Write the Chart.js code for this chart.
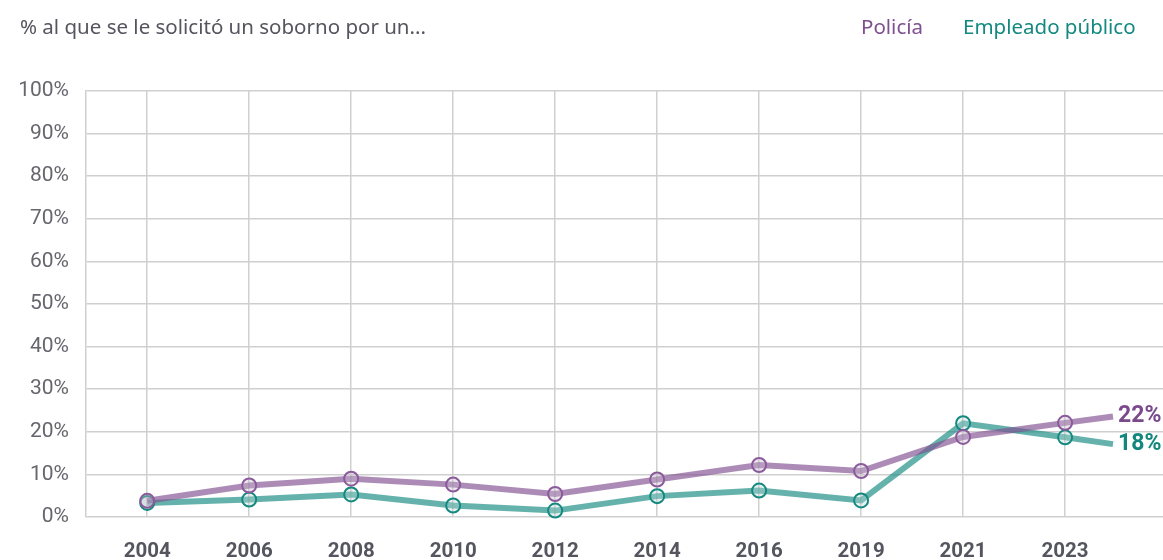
<!DOCTYPE html>
<html>
<head>
<meta charset="utf-8">
<script src="https://cdn.jsdelivr.net/npm/chart.js@4.4.1/dist/chart.umd.min.js"></script>
<style>
    html, body { margin: 0; padding: 0; background: #fff; }
    #wrap { position: relative; width: 1163px; height: 560px; overflow: hidden; }
    #title { position: absolute; left: 20px; top: 12px; font: 20.5px 'Noto Sans', sans-serif; color: #55555f; }
    .leg { position: absolute; top: 12px; font: 20.5px 'Noto Sans', sans-serif; }
    #chart { position: absolute; left: 0; top: 0; }
</style>
</head>
<body>
<div id="wrap">
    <canvas id="chart" width="1163" height="560"></canvas>
    <div id="title">% al que se le solicitó un soborno por un...</div>
    <div class="leg" style="left:861px;color:#7f4f91;">Policía</div>
    <div class="leg" style="left:963px;color:#13897f;">Empleado público</div>
</div>
<script>
    'use strict';

    var years = ['2004', '2006', '2008', '2010', '2012', '2014', '2016', '2019', '2021', '2023'];
    var policia = [3.8, 7.4, 9.0, 7.6, 5.4, 8.8, 12.2, 10.8, 18.8, 22.1];
    var empleado = [3.3, 4.1, 5.3, 2.7, 1.5, 4.9, 6.2, 3.9, 22.0, 18.7];
    // trailing segment that runs out to the end labels
    var tailPos = 9.47;
    var policiaTail = 23.6;
    var empleadoTail = 17.1;
    var endLabels = ['22%', '18%'];

    function toPoints(values, tail) {
        var pts = values.map(function (v, i) { return { x: i, y: v }; });
        pts.push({ x: tailPos, y: tail });
        return pts;
    }

    function radii(n) {
        var r = [];
        for (var i = 0; i < n; i++) { r.push(7); }
        r.push(0);
        return r;
    }

    var endLabelPlugin = {
        id: 'endLabels',
        afterDatasetsDraw: function (chart) {
            var ctx = chart.ctx;
            var colors = ['#7a4a8c', '#13877d'];
            ctx.save();
            ctx.font = 'bold 23px Roboto, sans-serif';
            ctx.textBaseline = 'middle';
            ctx.textAlign = 'left';
            chart.data.datasets.forEach(function (ds, i) {
                var meta = chart.getDatasetMeta(i);
                var last = meta.data[meta.data.length - 1];
                ctx.fillStyle = colors[i];
                ctx.fillText(endLabels[i], last.x + 5, last.y);
            });
            ctx.restore();
        }
    };

    new Chart(document.getElementById('chart'), {
        type: 'line',
        data: {
            datasets: [{
                label: 'Policía',
                data: toPoints(policia, policiaTail),
                borderColor: 'rgba(127,79,145,0.65)',
                borderWidth: 6,
                pointRadius: radii(policia.length),
                pointHoverRadius: radii(policia.length),
                pointBorderWidth: 2,
                pointBorderColor: '#8b5a9b',
                pointBackgroundColor: 'rgba(200,190,205,0.35)',
                tension: 0,
                clip: false
            }, {
                label: 'Empleado público',
                data: toPoints(empleado, empleadoTail),
                borderColor: 'rgba(19,137,127,0.65)',
                borderWidth: 6,
                pointRadius: radii(empleado.length),
                pointHoverRadius: radii(empleado.length),
                pointBorderWidth: 2,
                pointBorderColor: '#14897f',
                pointBackgroundColor: 'rgba(190,215,212,0.35)',
                tension: 0,
                clip: false
            }]
        },
        options: {
            responsive: false,
            animation: false,
            layout: { autoPadding: false, padding: { top: 91, right: 0, bottom: 0, left: 0 } },
            plugins: {
                legend: { display: false },
                tooltip: { enabled: false }
            },
            scales: {
                x: {
                    type: 'linear',
                    bounds: 'data',
                    min: -0.6,
                    max: 9.96,
                    afterFit: function (scale) {
                        scale.height = 43;
                        scale.paddingLeft = 0;
                        scale.paddingRight = 0;
                    },
                    afterBuildTicks: function (scale) {
                        scale.ticks = years.map(function (y, i) { return { value: i }; });
                    },
                    ticks: {
                        padding: 23,
                        autoSkip: false,
                        maxRotation: 0,
                        color: '#55555f',
                        font: { family: 'Roboto', size: 20.5, weight: 'bold' },
                        callback: function (v) { return years[v]; }
                    },
                    grid: { color: '#d0d0d0', lineWidth: 1.5, drawTicks: false },
                    border: { display: false }
                },
                y: {
                    min: 0,
                    max: 100,
                    afterFit: function (scale) {
                        scale.width = 86;
                        scale.paddingTop = 0;
                        scale.paddingBottom = 0;
                    },
                    ticks: {
                        stepSize: 10,
                        padding: 17,
                        color: '#66666e',
                        font: { family: 'Roboto', size: 21 },
                        callback: function (v) { return v + '%'; }
                    },
                    grid: { color: '#cfcfcf', lineWidth: 1.5, drawTicks: false },
                    border: { color: '#cfcfcf', width: 1.5 }
                }
            }
        },
        plugins: [endLabelPlugin]
    });
</script>
</body>
</html>
